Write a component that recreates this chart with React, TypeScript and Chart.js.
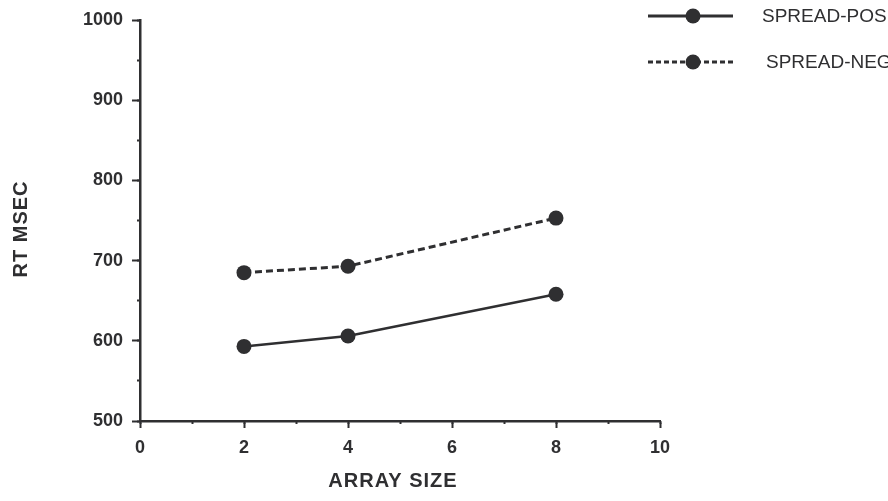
import React, { useEffect, useRef } from "react";
import { Chart, registerables } from "chart.js";
Chart.register(...registerables);

const arraySizes = [2, 4, 8];
const spreadPos = [593, 606, 658];
const spreadNeg = [685, 693, 753];
const xTickLabels = [0, 2, 4, 6, 8, 10];
const yTickLabels = [500, 600, 700, 800, 900, 1000];
const seriesNames = ["SPREAD-POS", "SPREAD-NEG"];
const xTitle = "ARRAY SIZE";
const yTitle = "RT MSEC";

const INK = "#2f2f31";
const FONT = "'Liberation Sans', Arial, Helvetica, sans-serif";

export default function App() {
  const ref = useRef<HTMLCanvasElement>(null);
  useEffect(() => {
    const canvas = ref.current!;
    const overlay = {
      id: "overlay",
      afterDraw(chart: any) {
        const ctx = chart.ctx as any;
        ctx.save();
        ctx.fillStyle = INK;
        ctx.font = `bold 20px ${FONT}`;
        ctx.letterSpacing = "1px";
        ctx.textAlign = "center";
        ctx.textBaseline = "middle";
        ctx.fillText(xTitle, 393, 481);
        ctx.save();
        ctx.translate(21, 229);
        ctx.rotate(-Math.PI / 2);
        ctx.fillText(yTitle, 0, 0);
        ctx.restore();
        ctx.letterSpacing = "0px";
        // legend
        const rows = [
          { y: 16, dash: [] as number[], name: seriesNames[0], tx: 762 },
          { y: 62, dash: [5, 3], name: seriesNames[1], tx: 766 },
        ];
        for (const r of rows) {
          ctx.strokeStyle = INK;
          ctx.lineWidth = 3;
          ctx.setLineDash(r.dash);
          ctx.beginPath();
          ctx.moveTo(648, r.y);
          ctx.lineTo(733, r.y);
          ctx.stroke();
          ctx.setLineDash([]);
          ctx.beginPath();
          ctx.arc(693, r.y, 7.5, 0, Math.PI * 2);
          ctx.fill();
          ctx.font = `19px ${FONT}`;
          ctx.textAlign = "left";
          ctx.fillText(r.name, r.tx, r.y + 1);
        }
        ctx.restore();
      },
    };
    const common = {
      borderColor: INK,
      backgroundColor: INK,
      pointBackgroundColor: INK,
      pointBorderColor: INK,
      pointBorderWidth: 0,
      pointRadius: 7.5,
      borderWidth: 2.5,
      tension: 0,
    };
    const tickFont = { family: FONT, size: 18, weight: "bold" };
    const chart = new Chart(canvas, {
      type: "line",
      data: {
        datasets: [
          {
            ...common,
            label: seriesNames[0],
            data: arraySizes.map((x, i) => ({ x, y: spreadPos[i] })),
          },
          {
            ...common,
            label: seriesNames[1],
            borderDash: [7, 4],
            borderWidth: 3,
            data: arraySizes.map((x, i) => ({ x, y: spreadNeg[i] })),
          },
        ],
      },
      options: {
        responsive: false,
        animation: false,
        layout: { padding: { top: 20, right: 228, left: 0, bottom: 0 } },
        plugins: { legend: { display: false }, tooltip: { enabled: false } },
        scales: {
          x: {
            type: "linear",
            min: 0,
            max: 10,
            afterFit: (s: any) => {
              s.height = 80;
            },
            border: { display: true, color: INK, width: 2.5 },
            grid: {
              drawOnChartArea: false,
              drawTicks: true,
              tickLength: 7,
              tickColor: INK,
              tickWidth: 2,
            },
            ticks: {
              stepSize: 2,
              autoSkip: false,
              maxRotation: 0,
              padding: 9,
              color: INK,
              font: tickFont,
              callback: (v: any) => (xTickLabels.includes(Number(v)) ? String(v) : ""),
            },
          },
          xMinor: {
            type: "linear",
            position: { y: 500 },
            min: 0,
            max: 10,
            border: { display: false },
            grid: {
              drawOnChartArea: false,
              drawTicks: true,
              tickLength: 3,
              tickColor: INK,
              tickWidth: 2,
            },
            ticks: { stepSize: 1, display: false, autoSkip: false },
          },
          y: {
            type: "linear",
            min: 500,
            max: 1000,
            afterFit: (s: any) => {
              s.width = 140;
            },
            border: { display: true, color: INK, width: 2.5 },
            grid: {
              drawOnChartArea: false,
              drawTicks: true,
              tickLength: 8,
              tickColor: INK,
              tickWidth: 2,
            },
            ticks: {
              stepSize: 100,
              autoSkip: false,
              padding: 9,
              color: INK,
              font: tickFont,
              callback: (v: any) => (yTickLabels.includes(Number(v)) ? String(v) : ""),
            },
          },
          yMinor: {
            type: "linear",
            position: { x: 0 },
            min: 500,
            max: 1000,
            border: { display: false },
            grid: {
              drawOnChartArea: false,
              drawTicks: true,
              tickLength: 3,
              tickColor: INK,
              tickWidth: 2,
            },
            ticks: { stepSize: 50, display: false, autoSkip: false },
          },
        },
      },
      plugins: [overlay],
    } as any);
    return () => chart.destroy();
  }, []);
  return (
    <div style={{ position: "absolute", left: 0, top: 0, width: 888, height: 501, background: "#fff" }}>
      <canvas ref={ref} width={888} height={501} style={{ width: 888, height: 501 }} />
    </div>
  );
}
